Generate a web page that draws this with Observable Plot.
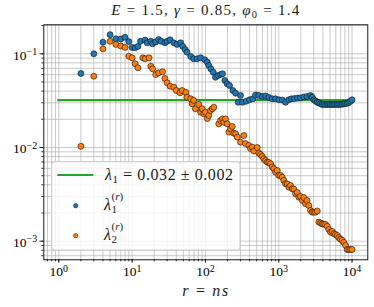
<!DOCTYPE html>
<html><head><meta charset="utf-8">
<script src="https://cdn.jsdelivr.net/npm/d3@7"></script>
<script src="https://cdn.jsdelivr.net/npm/@observablehq/plot@0.6"></script>
<style>body{margin:0;background:#fff} svg{display:block}</style>
</head><body><div id="chart"></div>
<script>
// ---- data ----
const r1 = [2,3,4,5,6,7,8,9,10,11,12,13,15,16,18,19,21,23,25,28,30,33,37,41,46,49,53,56,63,69,77,86,98,106,111,119,128,137,150,161,171,184,198,213,237,258,280,301,321,360,400,443,483,535,596,661,733,815,904,1003,1117,1238,1374,1496,1643,1806,1984,2200,2432,2716,2865,3013,3178,3353,3524,3718,3923,4123,4350,4590,4826,5093,5373,5649,5957,6282,6605,6966,7349,7727,8150,8604,9040,9546,10000];
const lambda1r = [0.0617,0.100,0.133,0.160,0.1445,0.144,0.150,0.135,0.117,0.116,0.120,0.136,0.140,0.131,0.136,0.128,0.134,0.142,0.136,0.131,0.136,0.141,0.131,0.126,0.131,0.120,0.111,0.104,0.0936,0.0885,0.0885,0.0906,0.0863,0.0813,0.075,0.0689,0.0637,0.0562,0.0587,0.0601,0.0612,0.0519,0.0479,0.0459,0.0406,0.038,0.0304,0.0359,0.0304,0.0312,0.0323,0.0331,0.0363,0.0359,0.035,0.0355,0.0342,0.0331,0.0331,0.0323,0.0321,0.0304,0.0323,0.0331,0.0333,0.0337,0.0339,0.0346,0.035,0.0359,0.0344,0.0323,0.0313,0.0304,0.0299,0.0293,0.0288,0.0289,0.0287,0.0288,0.0289,0.0288,0.0287,0.0288,0.0289,0.0288,0.0288,0.0289,0.029,0.0293,0.0295,0.0297,0.0302,0.0312,0.0323];
const r2 = [2,3,4,5,6,7,8,9,10,11,12,14,15,17,18,19,21,23,26,28,30,33,37,40,45,48,54,56,63,66,69,73,81,86,90,95,100,106,111,117,124,130,152,161,171,178,188,198,209,220,232,244,258,272,301,334,352,391,412,435,457,509,535,565,596,626,661,697,733,773,815,857,904,954,1003,1059,1117,1174,1238,1306,1374,1449,1528,1603,1695,1788,1880,1984,2093,2200,2321,2432,2575,2716,2865,3013,3178,3353,3524,3718,3923,4123,4350,4590,4826,5093,5373,5649,5957,6282,6605,6966,7349,7727,8150,8604,9040,9546,10000];
const lambda2r = [0.0103,0.0577,0.113,0.136,0.126,0.121,0.117,0.0942,0.0906,0.0782,0.0709,0.0906,0.0885,0.0906,0.0737,0.0692,0.0601,0.0627,0.0643,0.0545,0.049,0.0451,0.044,0.0406,0.0384,0.0406,0.0389,0.0344,0.0331,0.0293,0.0318,0.0259,0.0288,0.0238,0.0259,0.0229,0.0238,0.0204,0.022,0.0248,0.0259,0.0269,0.0179,0.0194,0.0202,0.0186,0.0202,0.0179,0.0146,0.0158,0.0168,0.0142,0.014,0.0129,0.0114,0.0134,0.011,0.0105,0.00975,0.0101,0.00918,0.01,0.00873,0.00842,0.00802,0.00757,0.00726,0.00697,0.00692,0.0067,0.0062,0.00593,0.00545,0.00569,0.00503,0.00503,0.00482,0.00445,0.0041,0.00408,0.00377,0.00393,0.00362,0.0036,0.00321,0.00331,0.00295,0.003,0.00272,0.00292,0.00251,0.00272,0.0024,0.00213,0.00204,0.00204,0.00204,0.0021,0.0016,0.00156,0.00153,0.00152,0.00151,0.00144,0.00133,0.00125,0.00127,0.0012,0.00118,0.00115,0.00109,0.00105,0.00102,0.00097,0.0009,0.000815,0.000815,0.000815,0.000815];
const fitRange = [1, 10000];
const fitValue = 0.032;
const xTicks = [1, 10, 100, 1000, 10000];
const xTickExp = ["0", "1", "2", "3", "4"];
const yTicks = [0.001, 0.01, 0.1];
const yTickExp = ["\u22123", "\u22122", "\u22121"];
const xDomain = [0.6237, 16406];
const yDomain = [0.000633, 0.204];

const blue = r1.map((r, i) => ({r, v: lambda1r[i]}));
const orange = r2.map((r, i) => ({r, v: lambda2r[i]}));
const fit = [{x1: fitRange[0], x2: fitRange[1], v: fitValue}];
const xMinor = d3.scaleLog().domain(xDomain).ticks();
const yMinor = d3.scaleLog().domain(yDomain).ticks();

const FONT = "'Liberation Serif', 'DejaVu Serif', serif";
const gridStyle = {stroke: "#b0b0b0", strokeOpacity: 0.85, strokeWidth: 0.8};

const svg = Plot.plot({
  width: 374, height: 307,
  marginLeft: 43.3, marginRight: 6.7, marginTop: 24.3, marginBottom: 47.7,
  style: {fontFamily: FONT, fontSize: "13.5px", background: "white", color: "black"},
  x: {type: "log", domain: xDomain},
  y: {type: "log", domain: yDomain},
  marks: [
    Plot.gridX(xMinor, gridStyle),
    Plot.gridY(yMinor, gridStyle),
    Plot.axisX({ticks: xMinor, tickSize: 2, tickFormat: () => "", label: null, strokeWidth: 0.8}),
    Plot.axisY({ticks: yMinor, tickSize: 2, tickFormat: () => "", label: null, strokeWidth: 0.8}),
    Plot.axisX({ticks: xTicks, tickSize: 3.5, tickFormat: () => "", label: null, strokeWidth: 0.8}),
    Plot.axisY({ticks: yTicks, tickSize: 4, tickFormat: () => "", label: null, strokeWidth: 0.8}),
    Plot.text(xTicks, {x: d => d, text: (d, i) => xTickExp[i], frameAnchor: "bottom", dy: 16.5, fontSize: 13.5, ariaLabel: () => "xticklabels"}),
    Plot.text(yTicks, {y: d => d, text: (d, i) => yTickExp[i], frameAnchor: "left", dx: -6.6, dy: 1.5, textAnchor: "end", fontSize: 13.5, ariaLabel: () => "yticklabels"}),
    Plot.ruleY(fit, {y: "v", x1: "x1", x2: "x2", stroke: "#2ca02c", strokeWidth: 2.2, strokeLinecap: "square"}),
    Plot.dot(blue, {x: "r", y: "v", r: 3, fill: "#1f77b4", stroke: "#111", strokeWidth: 0.6}),
    Plot.dot(orange, {x: "r", y: "v", r: 3, fill: "#ff7f0e", stroke: "#111", strokeWidth: 0.6}),
    Plot.frame({stroke: "black", strokeWidth: 0.9})
  ]
});
document.getElementById("chart").appendChild(svg);

const s = d3.select(svg);
// superscript tick labels 10^k
s.selectAll('text[aria-label="xticklabels"], text[aria-label="yticklabels"], g[aria-label="xticklabels"] text, g[aria-label="yticklabels"] text').each(function () {
  const t = d3.select(this);
  const e = t.text();
  if (e.startsWith("10")) return;
  t.text("10");
  t.append("tspan").attr("dy", -4.6).style("font-size", "10px").text(e);
});

const left = 43.3, right = 374 - 6.7;
const cx = (left + right) / 2;
function txt(parent, x, y, size, anchor) {
  return parent.append("text").attr("x", x).attr("y", y)
    .style("text-anchor", anchor).style("font-family", FONT).style("font-size", size + "px").style("fill", "#1a1a1a");
}

// title
const title = txt(s, cx, 15, 15, "middle").attr("textLength", 188).attr("lengthAdjust", "spacing");
title.append("tspan").style("font-style", "italic").text("E");
title.append("tspan").text(" = 1.5, ");
title.append("tspan").style("font-style", "italic").text("\u03b3");
title.append("tspan").text(" = 0.85, ");
title.append("tspan").style("font-style", "italic").text("\u03c6");
title.append("tspan").style("font-size", "10.5px").attr("dy", 2.5).text("0");
title.append("tspan").attr("dy", -2.5).text(" = 1.4");

// x label
const xl = txt(s, cx, 296, 16, "middle").attr("textLength", 46).attr("lengthAdjust", "spacing");
xl.append("tspan").style("font-style", "italic").text("r");
xl.append("tspan").text(" = ");
xl.append("tspan").style("font-style", "italic").text("ns");

// legend
const lg = s.append("g");
lg.append("rect").attr("x", 51.7).attr("y", 161.7).attr("width", 188.3).attr("height", 88.3)
  .attr("rx", 3).attr("fill", "white").attr("fill-opacity", 0.8).attr("stroke", "#cccccc").attr("stroke-width", 1);
lg.append("line").attr("x1", 57.3).attr("x2", 93.3).attr("y1", 175).attr("y2", 175)
  .attr("stroke", "#2ca02c").attr("stroke-width", 2.2);
const t1 = txt(lg, 105, 179.5, 16, "start").attr("textLength", 128).attr("lengthAdjust", "spacing");
t1.append("tspan").style("font-style", "italic").text("\u03bb");
t1.append("tspan").style("font-size", "11px").attr("dy", 3).text("1");
t1.append("tspan").attr("dy", -3).text(" = 0.032 \u00b1 0.002");
const entries = [{c: "#1f77b4", sub: "1", y: 205.7}, {c: "#ff7f0e", sub: "2", y: 235.7}];
for (const e of entries) {
  lg.append("circle").attr("cx", 75.7).attr("cy", e.y).attr("r", 2.2).attr("fill", e.c).attr("stroke", "#111").attr("stroke-width", 0.5);
  txt(lg, 104, e.y + 4.5, 16, "start").style("font-style", "italic").text("\u03bb");
  txt(lg, 111.5, e.y + 7.5, 11, "start").text(e.sub);
  const sup = txt(lg, 111.5, e.y - 5.5, 11, "start");
  sup.append("tspan").text("(");
  sup.append("tspan").style("font-style", "italic").text("r");
  sup.append("tspan").text(")");
}
</script></body></html>
